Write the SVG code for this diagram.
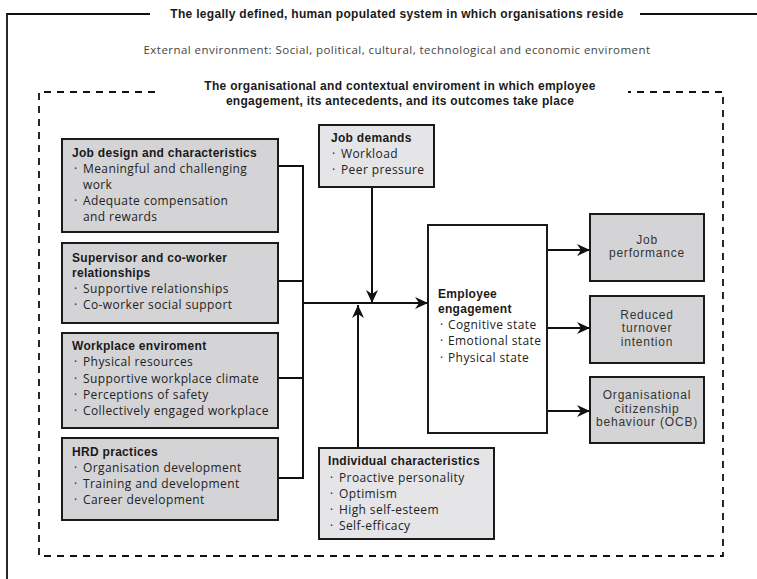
<svg xmlns="http://www.w3.org/2000/svg" width="757" height="579" viewBox="0 0 757 579">
<defs>
<style>
text{font-family:"Open Sans","Liberation Sans",sans-serif;fill:#222;font-size:12px;letter-spacing:0.4px}
.b{font-family:"Liberation Sans",Arial,sans-serif;font-weight:bold;letter-spacing:0.3px;fill:#1a1a1a}
.c{text-anchor:middle}
.o{font-family:"Liberation Sans",Arial,sans-serif;font-size:12px;letter-spacing:0.8px;fill:#333}
.ext{fill:#444;font-size:11.5px;letter-spacing:0.45px}
.box{fill:#d4d4d6;stroke:#1a1a1a;stroke-width:2}
.lbox{fill:#e5e5e7;stroke:#1a1a1a;stroke-width:2}
.wbox{fill:#fff;stroke:#1a1a1a;stroke-width:2}
.ln{fill:none;stroke:#111;stroke-width:2}
.frame{fill:none;stroke:#111;stroke-width:1.8}
.dash{fill:none;stroke:#111;stroke-width:1.8;stroke-dasharray:7 6}
</style>
<marker id="ah" markerWidth="14" markerHeight="12" refX="13" refY="6" orient="auto" markerUnits="userSpaceOnUse">
<path d="M0,0 L13,6 L0,12 L4,6 Z" fill="#111"/>
</marker>
</defs>
<rect width="757" height="579" fill="#fff"/>
<g id="outer-frame">
<path class="frame" d="M150,14 H7 V579"/>
<path class="frame" d="M640,14 H757"/>
<text class="b c" x="397" y="18">The legally defined, human populated system in which organisations reside</text>
<text class="ext c" x="397" y="54">External environment: Social, political, cultural, technological and economic enviroment</text>
</g>
<g id="inner-frame">
<path class="dash" d="M155,92 H39 V556 H723 V92 H628"/>
<text class="b c" x="400" y="90">The organisational and contextual enviroment in which employee</text>
<text class="b c" x="400" y="105">engagement, its antecedents, and its outcomes take place</text>
</g>
<g id="connectors">
<path class="ln" d="M278,166 H303 V478 H278"/>
<path class="ln" d="M278,281 H303"/>
<path class="ln" d="M278,378 H303"/>
<path class="ln" d="M303,303 H428" marker-end="url(#ah)"/>
<path class="ln" d="M372,187 V303" marker-end="url(#ah)"/>
<path class="ln" d="M358,448 V305" marker-end="url(#ah)"/>
<path class="ln" d="M547,250 H590" marker-end="url(#ah)"/>
<path class="ln" d="M547,328 H590" marker-end="url(#ah)"/>
<path class="ln" d="M547,411 H590" marker-end="url(#ah)"/>
</g>
<g id="job-design">
<rect class="box" x="62" y="139" width="216" height="93"/>
<text class="b" x="72" y="157">Job design and characteristics</text>
<text x="74" y="173">·</text><text x="83" y="173">Meaningful and challenging</text>
<text x="83" y="189">work</text>
<text x="74" y="205">·</text><text x="83" y="205">Adequate compensation</text>
<text x="83" y="221">and rewards</text>
</g>
<g id="supervisor">
<rect class="box" x="62" y="243" width="216" height="80"/>
<text class="b" x="72" y="262">Supervisor and co-worker</text>
<text class="b" x="72" y="277">relationships</text>
<text x="74" y="293">·</text><text x="83" y="293">Supportive relationships</text>
<text x="74" y="309">·</text><text x="83" y="309">Co-worker social support</text>
</g>
<g id="workplace">
<rect class="box" x="62" y="333" width="216" height="95"/>
<text class="b" x="72" y="350">Workplace enviroment</text>
<text x="74" y="366">·</text><text x="83" y="366">Physical resources</text>
<text x="74" y="383">·</text><text x="83" y="383">Supportive workplace climate</text>
<text x="74" y="399">·</text><text x="83" y="399">Perceptions of safety</text>
<text x="74" y="415">·</text><text x="83" y="415">Collectively engaged workplace</text>
</g>
<g id="hrd">
<rect class="box" x="62" y="438" width="216" height="82"/>
<text class="b" x="72" y="456">HRD practices</text>
<text x="74" y="472">·</text><text x="83" y="472">Organisation development</text>
<text x="74" y="488">·</text><text x="83" y="488">Training and development</text>
<text x="74" y="504">·</text><text x="83" y="504">Career development</text>
</g>
<g id="job-demands">
<rect class="lbox" x="319" y="125" width="115" height="62"/>
<text class="b" x="331" y="142">Job demands</text>
<text x="332" y="158">·</text><text x="341" y="158">Workload</text>
<text x="332" y="174">·</text><text x="341" y="174">Peer pressure</text>
</g>
<g id="individual">
<rect class="lbox" x="319" y="448" width="175" height="91"/>
<text class="b" x="328" y="465">Individual characteristics</text>
<text x="330" y="482">·</text><text x="339" y="482">Proactive personality</text>
<text x="330" y="498">·</text><text x="339" y="498">Optimism</text>
<text x="330" y="514">·</text><text x="339" y="514">High self-esteem</text>
<text x="330" y="530">·</text><text x="339" y="530">Self-efficacy</text>
</g>
<g id="engagement">
<rect class="wbox" x="428" y="225" width="119" height="208"/>
<text class="b" x="438" y="298">Employee</text>
<text class="b" x="438" y="313">engagement</text>
<text x="440" y="329">·</text><text x="448" y="329">Cognitive state</text>
<text x="440" y="345">·</text><text x="448" y="345">Emotional state</text>
<text x="440" y="362">·</text><text x="448" y="362">Physical state</text>
</g>
<g id="job-performance">
<rect class="box" x="590" y="214" width="114" height="67"/>
<text class="c o" x="647" y="243.5">Job<tspan x="647" dy="13.5">performance</tspan></text>
</g>
<g id="turnover">
<rect class="box" x="590" y="296" width="114" height="67"/>
<text class="c o" x="647" y="318.5">Reduced<tspan x="647" dy="13.5">turnover</tspan><tspan x="647" dy="13.5">intention</tspan></text>
</g>
<g id="ocb">
<rect class="box" x="590" y="377" width="114" height="66"/>
<text class="c o" x="647" y="399">Organisational<tspan x="647" dy="13.5">citizenship</tspan><tspan x="647" dy="13.5">behaviour (OCB)</tspan></text>
</g>
</svg>
